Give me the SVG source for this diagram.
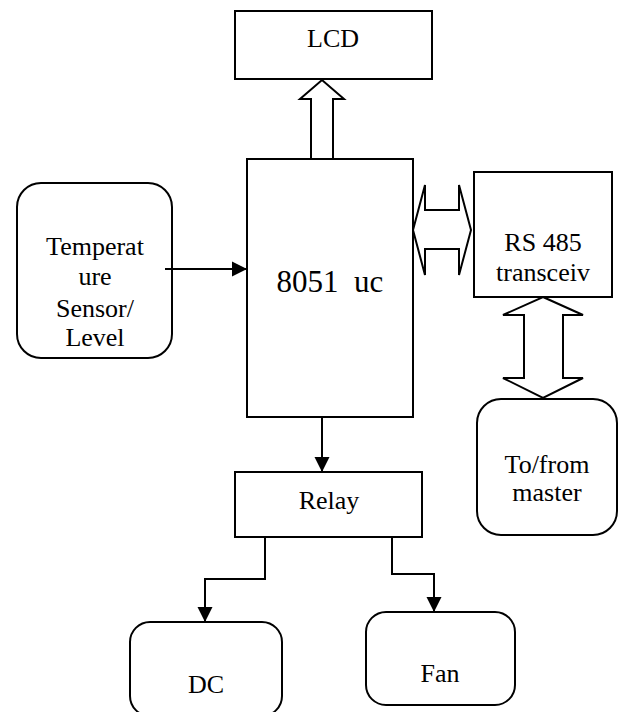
<svg xmlns="http://www.w3.org/2000/svg" width="619" height="712" viewBox="0 0 619 712">
<style>
.box{fill:#fff;stroke:#000;stroke-width:2}
.txt{font-family:"Liberation Serif","Times New Roman",serif;font-size:26px;fill:#000;text-anchor:middle}
.big{font-size:31px}
.line{fill:none;stroke:#000;stroke-width:2}
.hollow{fill:#fff;stroke:#000;stroke-width:2;stroke-linejoin:miter}
</style>
<defs>
<marker id="ah" markerUnits="userSpaceOnUse" markerWidth="16" markerHeight="16" viewBox="0 0 16 16" refX="15" refY="8" orient="auto">
<path d="M0,0.5 L15,8 L0,15.5 Z" fill="#000"/>
</marker>
</defs>
<rect width="619" height="712" fill="#fff"/>
<g id="lcd">
<rect class="box" x="235" y="11" width="197" height="68"/>
<text class="txt" x="333" y="47">LCD</text>
</g>
<g id="mcu">
<rect class="box" x="247" y="159" width="166" height="258"/>
<text class="txt big" x="330" y="292" xml:space="preserve">8051  uc</text>
</g>
<g id="sensor">
<rect class="box" x="17" y="183" width="155" height="175" rx="24" ry="24"/>
<text class="txt" x="95" y="255">Temperat</text>
<text class="txt" x="95" y="285">ure</text>
<text class="txt" x="95" y="317">Sensor/</text>
<text class="txt" x="95" y="346">Level</text>
</g>
<g id="rs485">
<rect class="box" x="474" y="172" width="138" height="125"/>
<text class="txt" x="543" y="251">RS 485</text>
<text class="txt" x="543" y="281">transceiv</text>
</g>
<g id="master">
<rect class="box" x="477" y="399" width="140" height="136" rx="24" ry="24"/>
<text class="txt" x="547" y="473">To/from</text>
<text class="txt" x="547" y="501">master</text>
</g>
<g id="relay">
<rect class="box" x="235" y="472" width="187" height="65"/>
<text class="txt" x="329" y="509">Relay</text>
</g>
<g id="dc">
<rect class="box" x="130" y="622" width="152" height="94" rx="20" ry="20"/>
<text class="txt" x="206" y="693">DC</text>
</g>
<g id="fan">
<rect class="box" x="366" y="612" width="149" height="93" rx="20" ry="20"/>
<text class="txt" x="440" y="682">Fan</text>
</g>
<g id="connectors">
<polygon class="hollow" points="311,159 311,99 300,99 322,80 344,99 333,99 333,159"/>
<polygon class="hollow" points="413,230 425,185 425,210 459,210 459,185 471,230 459,275 459,249 425,249 425,275"/>
<polygon class="hollow" points="543,297 583,315 563,315 563,378 583,378 543,398 503,378 524,378 524,315 503,315"/>
<line class="line" x1="165" y1="269" x2="247" y2="269" marker-end="url(#ah)"/>
<line class="line" x1="322" y1="417" x2="322" y2="472" marker-end="url(#ah)"/>
<polyline class="line" points="265,537 265,579 205,579 205,622" marker-end="url(#ah)"/>
<polyline class="line" points="392,537 392,574 434,574 434,612" marker-end="url(#ah)"/>
</g>
</svg>
